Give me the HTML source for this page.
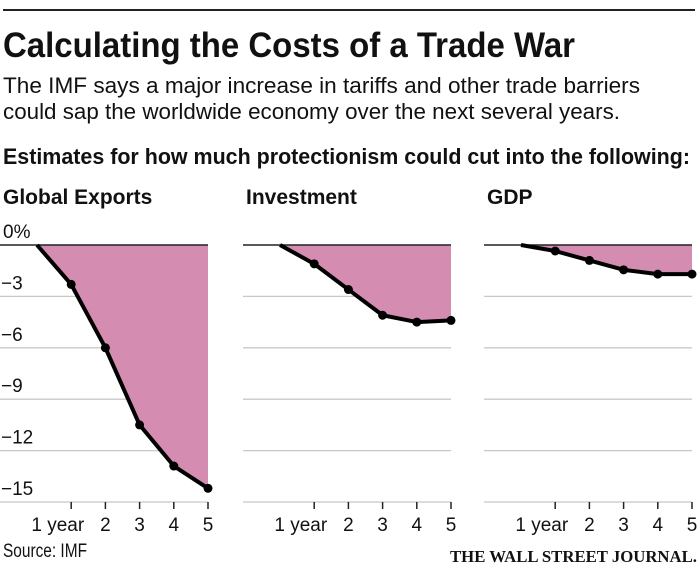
<!DOCTYPE html>
<html><head><meta charset="utf-8"><style>
html,body{margin:0;padding:0;background:#fff}
svg{display:block}
text{font-family:"Liberation Sans Narrow","Liberation Sans",sans-serif;fill:#111}
</style></head><body>
<svg id="chart" width="700" height="568" viewBox="0 0 700 568">
<line x1="3" y1="10" x2="695" y2="10" stroke="#222" stroke-width="2"/>
<text x="3" y="57" font-size="35" font-weight="bold" textLength="572" lengthAdjust="spacingAndGlyphs">Calculating the Costs of a Trade War</text>
<text x="3" y="93" font-size="22" textLength="637" lengthAdjust="spacingAndGlyphs">The IMF says a major increase in tariffs and other trade barriers</text>
<text x="3" y="119" font-size="22" textLength="617" lengthAdjust="spacingAndGlyphs">could sap the worldwide economy over the next several years.</text>
<text x="3" y="164" font-size="22" font-weight="bold" textLength="687" lengthAdjust="spacingAndGlyphs">Estimates for how much protectionism could cut into the following:</text>
<g id="panels"></g>
<text x="3" y="557" font-size="19" textLength="84" lengthAdjust="spacingAndGlyphs">Source: IMF</text>
<text x="450" y="562" font-size="17" font-weight="bold" textLength="247" lengthAdjust="spacingAndGlyphs" style="font-family:'Liberation Serif',serif">THE WALL STREET JOURNAL.</text>
</svg>
<script>
const panelTitles = ["Global Exports", "Investment", "GDP"];
const years = [0, 1, 2, 3, 4, 5];
const yearLabels = ["", "1 year", "2", "3", "4", "5"];
const exportsValues = [0, -2.3, -6.0, -10.5, -12.9, -14.2];
const investmentValues = [0, -1.1, -2.6, -4.1, -4.5, -4.4];
const gdpValues = [0, -0.35, -0.9, -1.45, -1.7, -1.7];
const yTicks = [0, -3, -6, -9, -12, -15];
const yTickLabels = ["0%", "\u22123", "\u22126", "\u22129", "\u221212", "\u221215"];

const NS = "http://www.w3.org/2000/svg";
const root = document.getElementById("panels");
const seriesList = [exportsValues, investmentValues, gdpValues];
const panelLefts = [0, 243, 484];
const yScale = v => 245 + (-v) * (257 / 15);
function mk(tag, attrs, parent) {
  const e = document.createElementNS(NS, tag);
  for (const k in attrs) e.setAttribute(k, attrs[k]);
  parent.appendChild(e);
  return e;
}
seriesList.forEach((vals, p) => {
  const L = panelLefts[p];
  const xScale = t => L + 37 + t * 34.2;
  const g = mk("g", {}, root);
  
  
  const tt = mk("text", {x: L + 3, y: 204, "font-size": 21, "font-weight": "bold"}, g);
  tt.textContent = panelTitles[p];
  
  
  const gl = L;
  const right = xScale(5);
  yTicks.forEach((v, i) => {
    if (v === 0) return;
    const ln = mk("line", {x1: gl, x2: right, y1: yScale(v), y2: yScale(v), stroke: "#c8c8c8", "stroke-width": 1.3}, g);
    
    
  });
  let d = "M" + xScale(0) + "," + yScale(0);
  vals.forEach((v, i) => { d += " L" + xScale(years[i]) + "," + yScale(v); });
  d += " L" + xScale(5) + "," + yScale(0) + " Z";
  const area = mk("path", {d: d, fill: "#d48db0"}, g);
  
  
  const zl = mk("line", {x1: gl, x2: right, y1: yScale(0), y2: yScale(0), stroke: "#222", "stroke-width": 1.5}, g);
  
  
  let ld = "";
  vals.forEach((v, i) => { ld += (i ? " L" : "M") + xScale(years[i]) + "," + yScale(v); });
  const line = mk("path", {d: ld, fill: "none", stroke: "#000", "stroke-width": 4, "stroke-linejoin": "round"}, g);
  
  
  vals.forEach((v, i) => {
    if (i === 0) return;
    const c = mk("circle", {cx: xScale(years[i]), cy: yScale(v), r: 4.5, fill: "#000"}, g);
    
    
  });
  years.forEach((t, i) => {
    if (i === 0) return;
    const tk = mk("line", {x1: xScale(t), x2: xScale(t), y1: 502, y2: 509, stroke: "#222", "stroke-width": 1.5}, g);
    
    
    const lb = i === 1
      ? mk("text", {x: xScale(t) + 13, y: 531, "font-size": 19, "text-anchor": "end"}, g)
      : mk("text", {x: xScale(t), y: 531, "font-size": 19, "text-anchor": "middle"}, g);
    lb.textContent = yearLabels[i];
    
    
  });
  if (p === 0) {
    yTicks.forEach((v, i) => {
      const lb = mk("text", {x: i === 0 ? 3 : 1, y: yScale(v) - 7, "font-size": 19}, g);
      lb.textContent = yTickLabels[i];
      
      
    });
  }
});
</script>
</body></html>
